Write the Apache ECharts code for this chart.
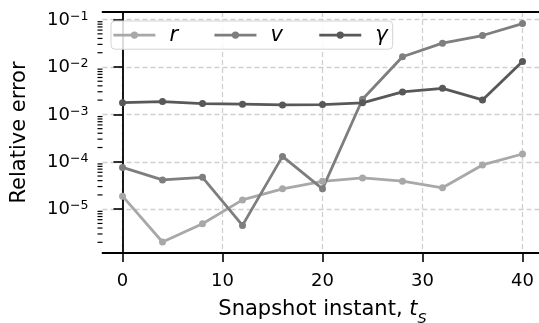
<!DOCTYPE html>
<html><head><meta charset="utf-8">
<script src="https://cdn.jsdelivr.net/npm/echarts@6/dist/echarts.min.js"></script>
<style>html,body{margin:0;padding:0;background:#fff}#c{width:539px;height:323px}</style>
</head><body><div id="c"></div>
<script>
const snapshots = [0, 4, 8, 12, 16, 20, 24, 28, 32, 36, 40];
const errR = [1.88e-5, 2.03e-6, 4.93e-6, 1.57e-5, 2.69e-5, 3.87e-5, 4.57e-5, 3.9e-5, 2.82e-5, 8.57e-5, 1.46e-4];
const errV = [7.62e-5, 4.15e-5, 4.70e-5, 4.55e-6, 1.30e-4, 2.69e-5, 2.08e-3, 1.64e-2, 3.18e-2, 4.61e-2, 8.24e-2];
const errG = [1.77e-3, 1.86e-3, 1.69e-3, 1.64e-3, 1.58e-3, 1.61e-3, 1.75e-3, 2.97e-3, 3.55e-3, 2.02e-3, 1.31e-2];
const seriesNames = ['r', 'v', 'γ'];
const seriesColors = ['#a8a8a8', '#7e7e7e', '#585858'];
const xTicks = [0, 10, 20, 30, 40];
const yTickExponents = [-6, -5, -4, -3, -2, -1];
const xMin = -2, xMax = 42;
const yMin = 1.19e-6, yMax = 0.1445;

// minor tick values (2..9 x each decade) within the axis range
const minorVals = [];
yTickExponents.forEach(e => { for (let m = 2; m <= 9; m++) { const v = m * Math.pow(10, e); if (v > yMin && v < yMax) minorVals.push(v); } });

const FONT = 'DejaVu Sans';
const chart = echarts.init(document.getElementById('c'), null, {renderer: 'canvas'});
const mk = (name, data, color) => ({
  type: 'line', name: name, data: snapshots.map((t, i) => [t, data[i]]),
  symbol: 'circle', symbolSize: 7, showSymbol: true,
  lineStyle: {width: 2.8, color: color}, itemStyle: {color: color},
  emphasis: {disabled: true}, z: 3
});
const gridLine = {show: true, showMinLine: false, showMaxLine: false, lineStyle: {color: '#cfcfcf', width: 1.3, type: [5, 3]}};
chart.setOption({
  animation: false,
  grid: {left: 102.5, top: 12, width: 440, height: 241, outerBoundsMode: 'none', containLabel: false},
  legend: {
    left: 111, top: 21, orient: 'horizontal', itemWidth: 42, itemHeight: 9, itemGap: 35,
    padding: [3.6, 5, 3.6, 1], backgroundColor: 'rgba(255,255,255,0.85)', borderColor: '#d4d4d4', borderWidth: 1, borderRadius: 4,
    lineStyle: {width: 2.8},
    textStyle: {fontFamily: FONT, fontStyle: 'italic', fontSize: 21, color: '#000', padding: [0, 0, 0, 9], lineHeight: 16},
    data: seriesNames, selectedMode: false
  },
  xAxis: [{
    type: 'value', min: xMin, max: xMax, splitNumber: 5,
    name: '{n|Snapshot instant, }{i|t}{s|S}', nameLocation: 'middle', nameGap: 46,
    nameTextStyle: {rich: {
      n: {fontFamily: FONT, fontSize: 21, color: '#000', lineHeight: 24, verticalAlign: 'top'},
      i: {fontFamily: FONT, fontSize: 21, fontStyle: 'italic', color: '#000', lineHeight: 24, verticalAlign: 'top'},
      s: {fontFamily: FONT, fontSize: 14.5, fontStyle: 'italic', color: '#000', lineHeight: 15, verticalAlign: 'bottom', padding: [0, 0, -4, 0]}
    }},
    axisLine: {show: true, onZero: false, lineStyle: {color: '#000', width: 1.8}},
    axisTick: {show: true, inside: false, length: 9, lineStyle: {color: '#000', width: 1.6}},
    axisLabel: {margin: 19, fontFamily: FONT, fontSize: 18, color: '#000', showMinLabel: false, showMaxLabel: false,
      formatter: v => xTicks.includes(v) ? String(v) : ''},
    splitLine: gridLine
  }, {
    type: 'value', position: 'top', min: xMin, max: xMax,
    axisLine: {show: true, onZero: false, lineStyle: {color: '#000', width: 1.8}},
    axisTick: {show: false}, axisLabel: {show: false}, splitLine: {show: false}
  }],
  yAxis: {
    type: 'log', logBase: 10, min: yMin, max: yMax,
    name: 'Relative error', nameLocation: 'middle', nameGap: 72, nameRotate: 90,
    nameTextStyle: {fontFamily: FONT, fontSize: 21, color: '#000'},
    axisLine: {show: true, lineStyle: {color: '#000', width: 1.8}},
    axisTick: {show: true, inside: false, length: 9, lineStyle: {color: '#000', width: 1.6}},
    axisLabel: {margin: 14, color: '#000',
      formatter: v => {
        const l = Math.log10(v), e = Math.round(l);
        if (Math.abs(l - e) > 1e-6) return '';
        return '{b|10}{s|−' + Math.abs(e) + '}';
      },
      rich: {
        b: {fontFamily: FONT, fontSize: 18, color: '#000', lineHeight: 19, verticalAlign: 'bottom'},
        s: {fontFamily: FONT, fontSize: 12.6, color: '#000', lineHeight: 12, verticalAlign: 'top'}
      }},
    splitLine: gridLine
  },
  series: [
    mk(seriesNames[0], errR, seriesColors[0]),
    mk(seriesNames[1], errV, seriesColors[1]),
    mk(seriesNames[2], errG, seriesColors[2]),
    {
      type: 'custom', name: 'minorTicks', silent: true, clip: false, z: 6,
      encode: {x: 0, y: 1},
      data: minorVals.map(v => [xMin, v]),
      renderItem: (params, api) => {
        const p = api.coord([api.value(0), api.value(1)]);
        return {type: 'line', shape: {x1: p[0] - 5, y1: p[1], x2: p[0], y2: p[1]}, style: {stroke: '#000', lineWidth: 1.2}};
      }
    }
  ]
});
</script></body></html>
